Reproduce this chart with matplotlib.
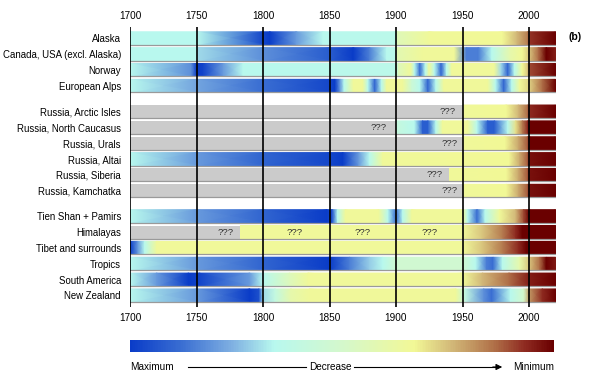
import numpy as np
import matplotlib
matplotlib.use("Agg")
import matplotlib.pyplot as plt
from matplotlib.colors import LinearSegmentedColormap
from matplotlib.cm import ScalarMappable
from matplotlib.lines import Line2D

plt.rcParams['font.family'] = ['Liberation Sans', 'DejaVu Sans']

# colour scale: 0 = maximum extent (blue) ... 1 = minimum extent (dark red)
cmap_stops = [0, 0.12, 0.24, 0.34, 0.5, 0.67, 0.76, 0.86, 0.93, 1.0]
cmap_colors = ['#0a3cc8', '#3a6ed2', '#7fb0e2', '#b8f8ee', '#d4f8cc',
               '#f2f896', '#d2b878', '#b07048', '#902c22', '#6a0000']
cmap = LinearSegmentedColormap.from_list('glacier', list(zip(cmap_stops, cmap_colors)))

regions = ["Alaska", "Canada, USA (excl. Alaska)", "Norway", "European Alps",
           "Russia, Arctic Isles", "Russia, North Caucasus", "Russia, Urals",
           "Russia, Altai", "Russia, Siberia", "Russia, Kamchatka",
           "Tien Shan + Pamirs", "Himalayas", "Tibet and surrounds", "Tropics",
           "South America", "New Zealand"]
row_pos = [0, 1, 2, 3, 4.62, 5.62, 6.62, 7.62, 8.62, 9.62,
           11.22, 12.22, 13.22, 14.22, 15.22, 16.22]

# (year, relative glacier state)
alaska = [(1700, .34), (1750, .34), (1800, .03), (1805, 0), (1825, .2), (1845, .34),
          (1900, .36), (1901, .56), (1925, .66), (1980, .67), (1991, .76), (1999, .84),
          (2000, .92), (2020, 1.0)]
canada = [(1700, .34), (1750, .34), (1751, .3), (1800, .18), (1850, .08), (1868, 0),
          (1880, .15), (1893, .34), (1900, .36), (1901, .58), (1920, .66), (1944, .66),
          (1953, .15), (1962, .15), (1972, .34), (1986, .6), (1995, .67), (2000, .74),
          (2007, .86), (2013, 1.0), (2020, .95)]
norway = [(1700, .34), (1746, .18), (1750, 0), (1755, .02), (1770, .2), (1785, .34),
          (1900, .36), (1902, .55), (1911, .66), (1914, .34), (1918, .12), (1922, .34),
          (1925, .66), (1929, .34), (1934, .1), (1938, .34), (1942, .66), (1974, .66),
          (1979, .3), (1984, .1), (1989, .34), (1995, .67), (1999, .74), (2001, .9),
          (2020, 1.0)]
alps = [(1700, .34), (1750, .22), (1800, .12), (1850, .03), (1854, 0), (1858, .2),
        (1861, .34), (1868, .66), (1875, .66), (1879, .34), (1884, .1), (1889, .34),
        (1893, .66), (1905, .66), (1912, .45), (1918, .34), (1924, .1), (1930, .34),
        (1936, .66), (1969, .66), (1975, .34), (1981, .1), (1987, .34), (1993, .66),
        (2000, .72), (2010, .86), (2020, 1.0)]
arctic = [(1950, .66), (1983, .67), (1992, .76), (1999, .86), (2000, .93), (2020, 1.0)]
caucasus = [(1900, .42), (1914, .34), (1920, .08), (1924, .08), (1930, .34), (1935, .66),
            (1954, .66), (1961, .34), (1969, .08), (1974, .08), (1984, .34), (1990, .7),
            (1995, .84), (1999, .93), (2000, 1.0), (2020, 1.0)]
urals = [(1950, .66), (1982, .67), (1992, .78), (1999, .88), (2000, 1.0), (2020, 1.0)]
altai = [(1700, .34), (1750, .2), (1800, .1), (1850, .03), (1860, 0), (1872, .2),
         (1880, .34), (1890, .66), (1985, .67), (1993, .78), (1999, .88), (2000, .97),
         (2020, 1.0)]
siberia = [(1940, .66), (1983, .67), (1992, .78), (1999, .88), (2000, .97), (2020, 1.0)]
kamchatka = [(1950, .66), (1983, .67), (1992, .78), (1999, .88), (2000, .97), (2020, 1.0)]
tienshan = [(1700, .34), (1750, .2), (1800, .1), (1848, 0), (1852, .05), (1856, .34),
            (1862, .66), (1887, .66), (1894, .34), (1900, .12), (1905, .34), (1912, .66),
            (1950, .66), (1954, .34), (1961, .12), (1967, .34), (1978, .66), (1990, .76),
            (1996, .9), (2000, 1.0), (2020, 1.0)]
himalaya = [(1783, .66), (1950, .66), (1965, .74), (1980, .84), (1990, .93), (1995, 1.0),
            (2020, 1.0)]
tibet = [(1700, 0), (1706, .2), (1711, .34), (1720, .66), (1950, .66), (1965, .74),
         (1980, .84), (1992, .93), (1998, 1.0), (2020, 1.0)]
tropics = [(1700, .34), (1750, .2), (1800, .1), (1850, 0), (1865, .15), (1880, .28),
           (1890, .34), (1900, .48), (1950, .48), (1960, .34), (1968, .15), (1973, .12),
           (1980, .34), (1993, .6), (2000, .74), (2008, .86), (2013, 1.0), (2020, .96)]
samerica = [(1700, .34), (1720, .2), (1744, 0), (1752, .02), (1790, .2), (1800, .34),
            (1820, .55), (1834, .66), (1950, .66), (1965, .76), (1985, .86), (2000, .95),
            (2020, 1.0)]
nzealand = [(1700, .34), (1750, .2), (1790, 0), (1797, .05), (1800, .3), (1809, .4),
            (1821, .6), (1835, .66), (1945, .66), (1952, .4), (1966, .18), (1972, .12),
            (1986, .34), (1996, .5), (2000, .8), (2010, .93), (2020, 1.0)]

series = [alaska, canada, norway, alps, arctic, caucasus, urals, altai, siberia,
          kamchatka, tienshan, himalaya, tibet, tropics, samerica, nzealand]

# unknown periods: row index -> year where record starts
unknown_until = {4: 1950, 5: 1900, 6: 1950, 8: 1940, 9: 1950, 11: 1783}
# "???" labels: (row index, year)
qmarks = [(4, 1939), (5, 1887), (6, 1940), (8, 1929), (9, 1940),
          (11, 1772), (11, 1824), (11, 1875), (11, 1925)]

W, H = 594, 380
fig = plt.figure(figsize=(W / 100, H / 100), dpi=100)
ax = fig.add_axes([130 / W, 1 - 307 / H, 425.6 / W, 280 / H])

bh = 0.82
for i, (pos, data) in enumerate(zip(row_pos, series)):
    yrs = np.array([d[0] for d in data], dtype=float)
    vals = np.array([d[1] for d in data])
    X = np.vstack([yrs, yrs])
    Y = np.vstack([np.full_like(yrs, pos - bh / 2), np.full_like(yrs, pos + bh / 2)])
    C = np.vstack([vals, vals])
    ax.pcolormesh(X, Y, C, shading='gouraud', cmap=cmap, vmin=0, vmax=1, zorder=1)
    if i in unknown_until:
        end = unknown_until[i]
        ax.barh(pos, end - 1700, left=1700, height=bh, color='#cbcbcb', lw=0, zorder=1)
    ax.plot([1700, 2020], [pos + bh / 2, pos + bh / 2], color='#9a9a9a', lw=0.9, zorder=2)

for i, yr in qmarks:
    ax.text(yr, row_pos[i], '???', ha='center', va='center', fontsize=6.8, color='#333333',
            zorder=3)

for yr in range(1700, 2001, 50):
    ax.axvline(yr, color='black', lw=1.2, zorder=4)

ax.set_xlim(1700, 2020)
ax.set_ylim(16.95, -0.71)
ax.set_xticks(range(1700, 2001, 50))
ax.set_yticks(row_pos, regions)
ax.tick_params(axis='x', top=True, labeltop=True, length=0, labelsize=7.2, pad=4)
ax.tick_params(axis='y', length=0, labelsize=6.9, pad=6.5)
for s in ax.spines.values():
    s.set_visible(False)

fig.text(575 / W, 1 - 37 / H, '(b)', fontsize=7.5, fontweight='bold', ha='center', va='center')

# colour scale
cax = fig.add_axes([130 / W, 1 - 352.3 / H, 424 / W, 12.6 / H])
cb = fig.colorbar(ScalarMappable(cmap=cmap), cax=cax, orientation='horizontal')
cb.set_ticks([])
cb.outline.set_visible(False)

ly = 1 - 367 / H
fig.text(130 / W, ly, 'Maximum', fontsize=7.2, ha='left', va='center')
fig.text(330 / W, ly, 'Decrease', fontsize=7.2, ha='center', va='center')
fig.text(554 / W, ly, 'Minimum', fontsize=7.2, ha='right', va='center')
fig.add_artist(Line2D([188 / W, 306 / W], [ly, ly], color='black', lw=0.8))
fig.add_artist(Line2D([354 / W, 497 / W], [ly, ly], color='black', lw=0.8))
ax.annotate('', xy=(505 / W, ly), xytext=(490 / W, ly), xycoords='figure fraction',
            arrowprops=dict(arrowstyle='-|>', color='black', lw=0.8, mutation_scale=9))

fig.savefig('out.png', dpi=100)
